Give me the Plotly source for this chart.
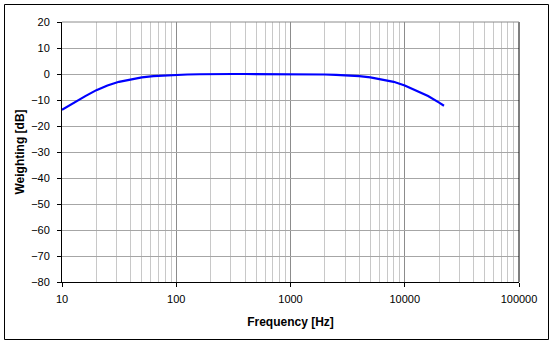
import plotly.graph_objects as go

freq_hz = [10, 12.5, 16, 20, 25, 31.5, 40, 50, 63, 80, 100, 125, 160, 200, 250, 315,
           400, 500, 630, 800, 1000, 1250, 1600, 2000, 2500, 3150, 4000, 5000, 6300,
           8000, 10000, 12500, 16000, 20000, 22050]
weighting_db = [-13.8, -11.2, -8.5, -6.2, -4.4, -3.0, -2.0, -1.3, -0.8, -0.5, -0.3, -0.2,
                -0.1, 0.0, 0.0, 0.0, 0.0, 0.0, 0.0, 0.0, 0.0, 0.0, -0.1, -0.2, -0.3, -0.5,
                -0.8, -1.3, -2.0, -3.0, -4.4, -6.2, -8.5, -11.0, -12.2]

x_ticks = [10, 100, 1000, 10000, 100000]
x_ticklabels = ["10", "100", "1000", "10000", "100000"]
y_ticks = list(range(-80, 21, 10))

minor_vals = [m * 10 ** e for e in range(1, 5) for m in range(2, 10)]

W, H = 555, 346
L, R, T, B = 62, 36, 22, 64
pw, ph = W - L - R, H - T - B

def px(x):
    return (x - L) / pw

def py(y):
    return (H - B - y) / ph

fig = go.Figure()
fig.add_trace(go.Scatter(x=freq_hz, y=weighting_db, mode="lines",
                         line=dict(color="#0000ff", width=2.2), showlegend=False))

font = dict(family="Liberation Sans, Arial, sans-serif", size=11, color="#000000")
title_font = dict(family="Liberation Sans, Arial, sans-serif", size=12, color="#000000")

fig.update_layout(
    width=W, height=H,
    margin=dict(l=L, r=R, t=T, b=B, pad=0),
    paper_bgcolor="#ffffff", plot_bgcolor="#ffffff",
    font=font,
    xaxis=dict(type="log", range=[1, 5], tickvals=x_ticks, ticktext=x_ticklabels,
               showgrid=True, gridcolor="#8c8c8c", gridwidth=1,
               minor=dict(tickvals=minor_vals, showgrid=True, gridcolor="#c8c8c8",
                          gridwidth=1, ticks=""),
               showline=True, linecolor="#000000", linewidth=1, mirror=False,
               ticks="outside", ticklen=4, tickcolor="#000000", zeroline=False,
               ticklabelstandoff=3,
               title=dict(text="<b>Frequency [Hz]</b>", standoff=13, font=title_font)),
    yaxis=dict(range=[-80, 20], tickvals=y_ticks, showgrid=True, gridcolor="#a6a6a6",
               gridwidth=1, showline=True, linecolor="#000000", linewidth=1,
               ticks="outside", ticklen=4, tickcolor="#000000", zeroline=False,
               ticklabelstandoff=5,
               title=dict(text="<b>Weighting [dB]</b>", standoff=3, font=title_font)),
)

# plot-area right/top edges
fig.add_shape(type="line", xref="paper", yref="paper", x0=1, x1=1, y0=0, y1=1,
              line=dict(color="#000000", width=1))
fig.add_shape(type="line", xref="paper", yref="paper", x0=0, x1=1, y0=1, y1=1,
              line=dict(color="#8c8c8c", width=1))
# outer chart border
fig.add_shape(type="rect", xref="paper", yref="paper",
              x0=px(4.5), x1=px(548.5), y0=py(339.5), y1=py(4.5),
              line=dict(color="#000000", width=1), fillcolor="rgba(0,0,0,0)", layer="above")

fig.write_html("out.html", config={"displayModeBar": False},
               post_script="document.body.style.margin='0';document.body.style.overflow='hidden';")
